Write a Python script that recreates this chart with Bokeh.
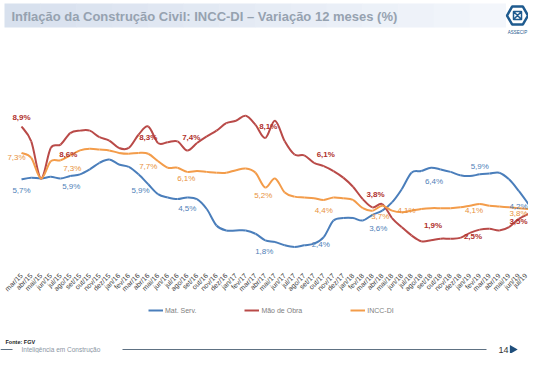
from math import pi
from bokeh.plotting import figure
from bokeh.models import (Range1d, LinearAxis, FixedTicker, Label, BoxAnnotation,
                          Legend, LegendItem, ColumnDataSource)
from bokeh.core.properties import value
from bokeh.embed import file_html
from bokeh.resources import INLINE

# ---------------- data ----------------
months = ["mar/15", "abr/15", "mai/15", "jun/15", "jul/15", "ago/15", "set/15", "out/15", "nov/15", "dez/15",
          "jan/16", "fev/16", "mar/16", "abr/16", "mai/16", "jun/16", "jul/16", "ago/16", "set/16", "out/16",
          "nov/16", "dez/16", "jan/17", "fev/17", "mar/17", "abr/17", "mai/17", "jun/17", "jul/17", "ago/17",
          "set/17", "out/17", "nov/17", "dez/17", "jan/18", "fev/18", "mar/18", "abr/18", "mai/18", "jun/18",
          "jul/18", "ago/18", "set/18", "out/18", "nov/18", "dez/18", "jan/19", "fev/19", "mar/19", "abr/19",
          "mai/19", "jun/19", "jul/19"]

mat_serv = [5.7, 5.8, 5.75, 5.85, 5.75, 5.9, 6.0, 6.3, 6.7, 6.9,
            6.6, 6.45, 6.0, 5.4, 4.8, 4.6, 4.5, 4.6, 4.5, 3.9,
            2.9, 2.6, 2.6, 2.6, 2.4, 2.0, 1.9, 1.7, 1.6, 1.7,
            1.8, 2.2, 3.2, 3.35, 3.35, 3.2, 3.55, 3.8, 4.3, 5.1,
            6.1, 6.2, 6.4, 6.3, 6.15, 5.95, 5.9, 6.0, 6.05, 6.1,
            5.7, 5.0, 4.2]

mao_obra = [8.9, 8.0, 5.75, 7.6, 7.8, 8.5, 8.65, 8.65, 8.25, 8.05,
            7.6, 7.6, 8.4, 8.9, 7.9, 7.95, 8.0, 7.45, 7.9, 8.3,
            8.65, 9.1, 9.25, 9.55, 9.0, 8.2, 9.25, 8.0, 7.2, 7.15,
            6.7, 6.5, 6.2, 5.8, 5.25, 4.5, 4.0, 4.2, 3.35, 2.8,
            2.3, 1.95, 2.0, 2.1, 2.1, 2.15, 2.45, 2.65, 2.7, 2.6,
            2.8, 3.3, 3.6]

incc_di = [7.3, 7.0, 5.75, 6.8, 6.85, 7.15, 7.45, 7.55, 7.5, 7.45,
           7.3, 7.25, 7.3, 7.25, 6.8, 6.4, 6.4, 6.15, 6.2, 6.15,
           6.1, 6.1, 6.25, 6.35, 6.1, 5.2, 5.75, 4.9, 4.65, 4.6,
           4.55, 4.45, 4.6, 4.55, 4.45, 3.95, 3.8, 4.1, 3.8, 3.7,
           3.8, 3.9, 3.95, 3.95, 3.95, 4.0, 4.1, 4.2, 4.1, 4.05,
           4.0, 3.95, 3.9]

# data labels (index into series, text shown)
lab_mat_idx = [0, 5, 12, 17, 25, 31, 37, 42, 47, 52]
lab_mat_txt = ["5,7%", "5,9%", "5,9%", "4,5%", "1,8%", "2,4%", "3,6%", "6,4%", "5,9%", "4,2%"]
lab_mo_idx = [0, 5, 13, 17, 25, 31, 36, 42, 46, 52]
lab_mo_txt = ["8,9%", "8,6%", "8,3%", "7,4%", "8,1%", "6,1%", "3,8%", "1,9%", "2,5%", "3,5%"]
lab_in_idx = [0, 5, 13, 17, 25, 31, 37, 40, 46, 52]
lab_in_txt = ["7,3%", "7,3%", "7,7%", "6,1%", "5,2%", "4,4%", "3,7%", "4,1%", "4,1%", "3,8%"]

# ---------------- styles ----------------
C_BLUE = "#4a7ebb"
C_RED = "#b94a48"
C_ORANGE = "#f39c4a"
C_BLUE_T = "#4f7fb8"
C_RED_T = "#b0302c"
C_ORANGE_T = "#e8913c"
FONT = "Liberation Sans"

W, H = 528, 353
PX_PER_X = 9.75
PX_PER_Y = 16.5
X0_PX, Y0_PX, Y0_VAL = 21.0, 126.0, 8.9


def X(px):
    return (px - X0_PX) / PX_PER_X


def Y(py):
    return Y0_VAL - (py - Y0_PX) / PX_PER_Y


p = figure(width=W, height=H, output_backend="svg", toolbar_location=None,
           x_range=Range1d(X(0), X(W)), y_range=Range1d(Y(H), Y(0)),
           x_axis_location=None, y_axis_location=None, min_border=0,
           background_fill_color="white", border_fill_color="white")
p.outline_line_color = None
p.grid.visible = False

# ---------------- title bar ----------------
n_strips = 14
left, right = 4, 505
for k in range(n_strips):
    t = k / (n_strips - 1)
    r = int(0xd8 + (0xf3 - 0xd8) * t)
    g = int(0xe1 + (0xf6 - 0xe1) * t)
    b = int(0xee + (0xfb - 0xee) * t)
    x_a = left + (right - left) * k / n_strips
    x_b = left + (right - left) * (k + 1) / n_strips + 0.5
    p.add_layout(BoxAnnotation(left=X(x_a), right=X(x_b), top=Y(3), bottom=Y(27),
                               fill_color=f"#{r:02x}{g:02x}{b:02x}", fill_alpha=1, line_color=None,
                               level="underlay"))
p.add_layout(Label(x=X(11), y=Y(15.5), text="Inflação da Construção Civil: INCC-DI – Variação 12 meses (%)",
                   text_font=FONT, text_font_size="13px", text_font_style="bold",
                   text_color="#96a2b0", text_baseline="middle"))

# logo
p.scatter(x=[X(517)], y=[Y(15)], marker="hex", size=21, fill_color="white",
          line_color="#1f5b8f", line_width=2.5)
p.scatter(x=[X(517)], y=[Y(15)], marker="square_x", size=8, fill_color="white",
          line_color="#1f5b8f", line_width=1.5)
p.add_layout(Label(x=X(517), y=Y(32), text="ASSECIP", text_font=FONT,
                   text_font_size="4.5px", text_color="#1f5b8f", text_align="center",
                   text_baseline="middle"))


# ---------------- smoothed lines (Catmull-Rom as Bezier segments) ----------------
def smooth_source(ys):
    n = len(ys)
    xs = list(range(n))
    d = dict(x0=[], y0=[], x1=[], y1=[], cx0=[], cy0=[], cx1=[], cy1=[])
    for i in range(n - 1):
        a = max(i - 1, 0)
        b = min(i + 2, n - 1)
        d["x0"].append(xs[i]); d["y0"].append(ys[i])
        d["x1"].append(xs[i + 1]); d["y1"].append(ys[i + 1])
        d["cx0"].append(xs[i] + (xs[i + 1] - xs[a]) / 6)
        d["cy0"].append(ys[i] + (ys[i + 1] - ys[a]) / 6)
        d["cx1"].append(xs[i + 1] - (xs[b] - xs[i]) / 6)
        d["cy1"].append(ys[i + 1] - (ys[b] - ys[i]) / 6)
    return ColumnDataSource(d)


def draw_series(ys, color):
    return p.bezier(x0="x0", y0="y0", x1="x1", y1="y1", cx0="cx0", cy0="cy0",
                    cx1="cx1", cy1="cy1", source=smooth_source(ys),
                    line_color=color, line_width=2)


r_mat = draw_series(mat_serv, C_BLUE)
r_mo = draw_series(mao_obra, C_RED)
r_inc = draw_series(incc_di, C_ORANGE)


# ---------------- data labels ----------------
def add_labels(idx, txt, series, xoff, yoff, color, style):
    s = ColumnDataSource(dict(x=idx, y=[series[i] for i in idx], t=txt, xo=xoff, yo=yoff))
    p.text(x="x", y="y", text="t", source=s, x_offset="xo", y_offset="yo",
           text_font=value(FONT), text_font_size="8px", text_font_style=style,
           text_color=color, text_align="center", text_baseline="middle")


add_labels(lab_mat_idx, lab_mat_txt, mat_serv,
           [0, 1, 2, 0, -1, -3, -4, 3, 0, -10],
           [11, 10, 16, 11, 11, 7, 18, 14, -8, 2], C_BLUE_T, "normal")
add_labels(lab_mo_idx, lab_mo_txt, mao_obra,
           [0, -2, 0, 4, 3, 2, 3, 2, 3, -10],
           [-9, 21, 11, -13, -12, -12, -13, -15, 4, 8], C_RED_T, "bold")
add_labels(lab_in_idx, lab_in_txt, incc_di,
           [-5, 2, 0, -1, -2, 0, -2, -5, 4, -10],
           [5, 13, 13, 7, 8, 11, 11, 0, 5, 4], C_ORANGE_T, "normal")

# ---------------- x axis ----------------
xaxis = LinearAxis(fixed_location=Y(266))
xaxis.ticker = FixedTicker(ticks=list(range(len(months))))
xaxis.major_label_overrides = {i: m for i, m in enumerate(months)}
xaxis.major_label_orientation = pi / 4
xaxis.axis_line_color = None
xaxis.major_tick_line_color = None
xaxis.minor_tick_line_color = None
xaxis.major_label_standoff = 2
xaxis.major_label_text_font = FONT
xaxis.major_label_text_font_size = "7px"
xaxis.major_label_text_color = "#404040"
p.add_layout(xaxis, "below")

# ---------------- legend ----------------
legend = Legend(items=[LegendItem(label="Mat. Serv.", renderers=[r_mat]),
                       LegendItem(label="Mão de Obra", renderers=[r_mo]),
                       LegendItem(label="INCC-DI", renderers=[r_inc])],
                orientation="horizontal", location=(148, 39), spacing=48,
                glyph_width=15, glyph_height=8, label_standoff=2,
                label_text_font=FONT, label_text_font_size="7px",
                label_text_color="#808080", border_line_color=None,
                background_fill_alpha=0, padding=0, margin=0)
p.add_layout(legend)

# ---------------- footer ----------------
p.add_layout(Label(x=X(5), y=Y(341), text="Fonte: FGV", text_font=FONT,
                   text_font_size="5.5px", text_font_style="bold", text_color="#222222",
                   text_baseline="middle"))
for a, b in [(0, 12), (122, 486)]:
    p.add_layout(BoxAnnotation(left=X(a), right=X(b), top=Y(348.6), bottom=Y(349.6),
                               fill_color="#5e7183", fill_alpha=1, line_color=None))
p.add_layout(Label(x=X(21), y=Y(349), text="Inteligência em Construção",
                   text_font=FONT, text_font_size="6.5px",
                   text_color="#8a96a3", text_baseline="middle"))
p.add_layout(Label(x=X(498), y=Y(349), text="14", text_font=FONT,
                   text_font_size="9px", text_color="#333333", text_baseline="middle"))
p.scatter(x=[X(512)], y=[Y(349)], marker="triangle", angle=-pi / 2, size=9,
          fill_color="#1f4f7c", line_color=None)

open("out.html", "w").write(file_html(p, INLINE))
